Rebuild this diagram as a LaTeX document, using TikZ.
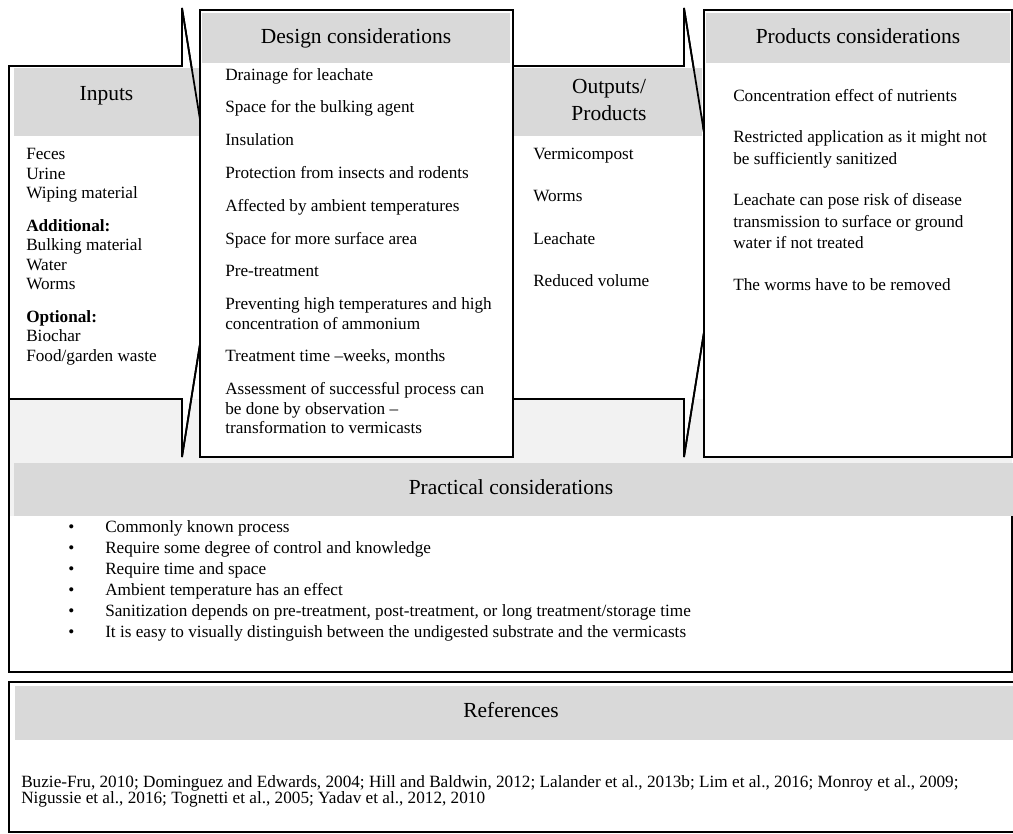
\documentclass[tikz,border=0pt]{standalone}
\usepackage{fontspec}
\setmainfont{Liberation Serif}
\usetikzlibrary{positioning}
\definecolor{hdrgray}{RGB}{217,217,217}
\definecolor{bandgray}{RGB}{242,242,242}
\begin{document}
\begin{tikzpicture}[
    x=0.75pt, y=-0.75pt,
    boxline/.style={draw, line width=1.3pt, fill=white},
    hdr/.style={fill=hdrgray, draw=none},
    hdrtext/.style={font=\fontsize{16.1}{20.25}\selectfont, inner sep=0pt,
                    align=center, anchor=base},
    items/.style={font=\fontsize{12.9}{14.6}\selectfont, inner sep=0pt,
                  align=left, anchor=base west}
  ]
  \useasboundingbox (0,0) rectangle (1013,833);
  % Practical considerations frame
  \fill[bandgray] (9,399) rectangle (1012,516);
  \draw[line width=1.3pt] (9,399) -- (9,672) -- (1012,672) -- (1012,516);
  \fill[hdr] (14,463) rectangle (1013,516);
  % Inputs chevron
  \draw[boxline] (9,66) -- (182,66) -- (182,8) -- (218,231) -- (182,457)
    -- (182,399) -- (9,399) -- cycle;
  % Outputs chevron
  \draw[boxline] (513,66) -- (684,66) -- (684,8) -- (720,232) -- (684,457)
    -- (684,399) -- (513,399) -- cycle;
  \fill[hdr] (14,68) rectangle (199,136);
  \fill[hdr] (513,68) rectangle (702,136);
  \draw[line width=1.3pt] (182,8) -- (218,231) -- (182,457);
  \draw[line width=1.3pt] (684,8) -- (720,232) -- (684,457);
  % Design and products boxes
  \draw[boxline] (200,10) rectangle (513,457);
  \fill[hdr] (202,13) rectangle (510,63);
  \draw[boxline] (704,10) rectangle (1012,457);
  \fill[hdr] (706,13) rectangle (1010,63);
  % References frame
  \draw[line width=2.2pt] (9,682) rectangle (1016,832);
  \fill[hdr] (15,686) rectangle (1013,740);
  % Headings (base = last line)
  \node[hdrtext] (intitle) at (106.5,100.5) {Inputs};
  \node[hdrtext] (dctitle) at (356,43) {Design considerations};
  \node[hdrtext] (outtitle) at (609,120) {Outputs/\\Products};
  \node[hdrtext] (prtitle) at (858,43) {Products considerations};
  \node[hdrtext] (pctitle) at (511,494.5) {Practical considerations};
  \node[hdrtext] (reftitle) at (511,717.5) {References};
  % Inputs
  \node[items] (inlist) at (26,361.4) {Feces\\Urine\\Wiping material\\[10pt]
    \textbf{Additional:}\\Bulking material\\Water\\Worms\\[10pt]
    \textbf{Optional:}\\Biochar\\Food/garden waste};
  % Design considerations
  \node[items] (dclist) at (225,433.6) {Drainage for leachate\\[10pt]
    Space for the bulking agent\\[10pt]
    Insulation\\[10pt]
    Protection from insects and rodents\\[10pt]
    Affected by ambient temperatures\\[10pt]
    Space for more surface area\\[10pt]
    Pre-treatment\\[10pt]
    Preventing high temperatures and high\\concentration of ammonium\\[10pt]
    Treatment time --weeks, months\\[10pt]
    Assessment of successful process can\\be done by observation --\\transformation to vermicasts};
  % Outputs
  \node[items] (outlist) at (533,286.3) {Vermicompost\\[17.1pt]
    Worms\\[17.1pt]
    Leachate\\[17.1pt]
    Reduced volume};
  % Products considerations
  \node[items, font=\fontsize{12.9}{16.1}\selectfont] (prlist) at (733,290.5)
    {Concentration effect of nutrients\\[14.8pt]
    Restricted application as it might not\\be sufficiently sanitized\\[15.2pt]
    Leachate can pose risk of disease\\transmission to surface or ground\\water if not treated\\[15.2pt]
    The worms have to be removed};
  % Practical considerations
  \node[items, font=\fontsize{12.9}{15.75}\selectfont] (pclist) at (68,637.5)
    {\makebox[27.75pt][l]{\textbullet}Commonly known process\\
    \makebox[27.75pt][l]{\textbullet}Require some degree of control and knowledge\\
    \makebox[27.75pt][l]{\textbullet}Require time and space\\
    \makebox[27.75pt][l]{\textbullet}Ambient temperature has an effect\\
    \makebox[27.75pt][l]{\textbullet}Sanitization depends on pre-treatment, post-treatment, or long treatment/storage time\\
    \makebox[27.75pt][l]{\textbullet}It is easy to visually distinguish between the undigested substrate and the vermicasts};
  % References
  \node[items, font=\fontsize{12.9}{12.5}\selectfont] (reflist) at (21,803.7)
    {Buzie-Fru, 2010; Dominguez and Edwards, 2004; Hill and Baldwin, 2012; Lalander et al., 2013b; Lim et al., 2016; Monroy et al., 2009;\\
    Nigussie et al., 2016; Tognetti et al., 2005; Yadav et al., 2012, 2010};
\end{tikzpicture}
\end{document}
